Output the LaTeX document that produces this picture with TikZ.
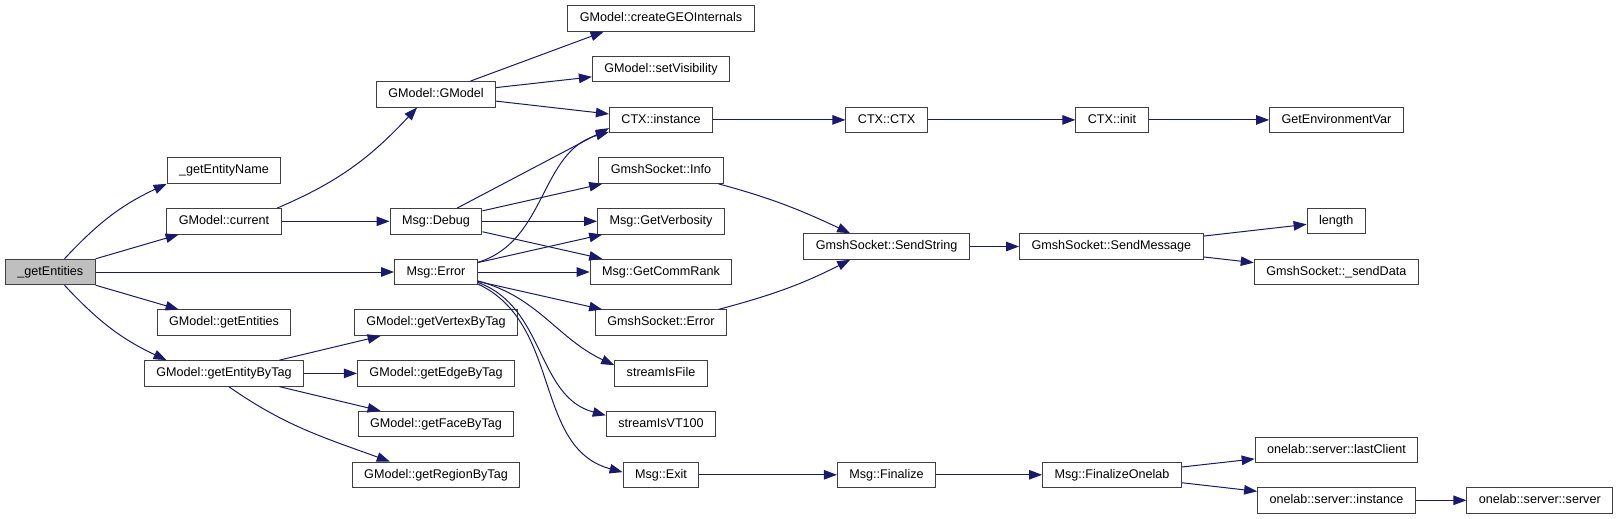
\documentclass[tikz,border=0pt]{standalone}
\usepackage{xcolor}
\usepackage{fontspec}
\setsansfont{Liberation Sans}
\usetikzlibrary{arrows.meta, positioning}

\definecolor{callblue}{HTML}{191970}
\definecolor{rootgray}{HTML}{BFBFBF}
\newcommand{\fnfont}{\sffamily\fontsize{12.6}{14}\selectfont}

\begin{document}
\begin{tikzpicture}[x=1pt, y=1pt, node distance=50.7pt]
    \tikzstyle{fnbox} = [rectangle, draw=black!75, line width=1pt, fill=white, inner xsep=12pt, inner ysep=0pt, text height=9.2pt, text depth=2.7pt, minimum height=25.5pt, font=\fnfont]
    \tikzstyle{root} = [fnbox, fill=rootgray]
    \tikzstyle{call} = [draw=callblue, line width=1pt, -{Triangle[length=13pt, width=9.5pt]}]

    \fill [white] (0,0) rectangle (1617,-519);
    \useasboundingbox (0,0) rectangle (1617,-519);

    % caller and first level
    \node [root] (getEnt) at (50.3,-272) {\_getEntities};
    \node [fnbox, right of=getEnt, node distance=385.7pt] (msgError) {Msg::Error};
    \node [fnbox, above of=msgError] (msgDebug) {Msg::Debug};
    \node [fnbox, left of=msgDebug, node distance=212pt] (gmCurrent) {GModel::current};
    \node [fnbox, above of=gmCurrent] (entName) {\_getEntityName};
    \node [fnbox, below of=gmCurrent, node distance=101.4pt] (gmEntities) {GModel::getEntities};
    \node [fnbox, below of=gmEntities] (byTag) {GModel::getEntityByTag};
    \node [fnbox, above of=msgDebug, node distance=127pt] (gmodel) {GModel::GModel};
    \node [fnbox, below of=msgError] (vertexTag) {GModel::getVertexByTag};
    \node [fnbox, below of=vertexTag] (edgeTag) {GModel::getEdgeByTag};
    \node [fnbox, below of=edgeTag] (faceTag) {GModel::getFaceByTag};
    \node [fnbox, below of=faceTag] (regionTag) {GModel::getRegionByTag};

    % third column
    \node [fnbox, right of=msgError, node distance=225pt] (commRank) {Msg::GetCommRank};
    \node [fnbox, above of=commRank] (verbosity) {Msg::GetVerbosity};
    \node [fnbox, above of=verbosity] (sockInfo) {GmshSocket::Info};
    \node [fnbox, above of=sockInfo] (ctxInst) {CTX::instance};
    \node [fnbox, above of=ctxInst] (setVis) {GModel::setVisibility};
    \node [fnbox, above of=setVis] (createGEO) {GModel::createGEOInternals};
    \node [fnbox, below of=commRank] (sockError) {GmshSocket::Error};
    \node [fnbox, below of=sockError] (isFile) {streamIsFile};
    \node [fnbox, below of=isFile] (isVT) {streamIsVT100};
    \node [fnbox, below of=isVT] (msgExit) {Msg::Exit};

    % deeper calls
    \node [fnbox, right of=ctxInst, node distance=225.6pt] (ctxCtx) {CTX::CTX};
    \node [fnbox, below of=ctxCtx, node distance=126.6pt] (sendStr) {GmshSocket::SendString};
    \node [fnbox, right of=msgExit, node distance=225.5pt] (finalize) {Msg::Finalize};
    \node [fnbox, right of=ctxCtx, node distance=225.4pt] (ctxInit) {CTX::init};
    \node [fnbox, right of=sendStr, node distance=224.8pt] (sendMsg) {GmshSocket::SendMessage};
    \node [fnbox, right of=finalize, node distance=225.5pt] (finOnelab) {Msg::FinalizeOnelab};
    \node [fnbox, right of=ctxInit, node distance=224.5pt] (envVar) {GetEnvironmentVar};
    \node [fnbox, right of=sendMsg, node distance=224.9pt, yshift=25.5pt] (length) {length};
    \node [fnbox, right of=sendMsg, node distance=224.9pt, yshift=-25.5pt] (sendData) {GmshSocket::\_sendData};
    \node [fnbox, right of=finOnelab, node distance=224.5pt, yshift=25pt] (lastClient) {onelab::server::lastClient};
    \node [fnbox, right of=finOnelab, node distance=224.5pt, yshift=-25.5pt] (olInst) {onelab::server::instance};
    \node [fnbox, right of=olInst, node distance=203.3pt] (olServer) {onelab::server::server};

    \path [call] (getEnt.43) to[out=47, in=205] (entName.193);
    \path [call] (getEnt) -- (gmCurrent);
    \path [call] (getEnt) -- (msgError);
    \path [call] (getEnt) -- (gmEntities);
    \path [call] (getEnt.-43) to[out=-47, in=155] (byTag.167);

    \path [call] (gmCurrent.14) to[out=23, in=227] (gmodel.215);
    \path [call] (gmCurrent) -- (msgDebug);

    \path [call] (gmodel.21) -- (createGEO.193);
    \path [call] (gmodel) -- (setVis);
    \path [call] (gmodel) -- (ctxInst);

    \path [call] (msgDebug.32) -- (ctxInst.189);
    \path [call] (msgDebug) -- (sockInfo);
    \path [call] (msgDebug) -- (verbosity);
    \path [call] (msgDebug) -- (commRank);

    \path [call] (msgError.13) to[out=17, in=196] (ctxInst.193);
    \path [call] (msgError) -- (verbosity);
    \path [call] (msgError) -- (commRank);
    \path [call] (msgError) -- (sockError);
    \path [call] (msgError.-12) to[out=-15, in=155] (isFile.170);
    \path [call] (msgError.-14) to[out=-20, in=165] (isVT.171);
    \path [call] (msgError.-16) to[out=-25, in=165] (msgExit.176);

    \path [call] (byTag) -- (vertexTag);
    \path [call] (byTag) -- (edgeTag);
    \path [call] (byTag) -- (faceTag);
    \path [call] (byTag.-70) to[out=-35, in=160] (regionTag.164);

    \path [call] (ctxInst) -- (ctxCtx);
    \path [call] (ctxCtx) -- (ctxInit);
    \path [call] (ctxInit) -- (envVar);

    \path [call] (sockInfo.-13) to[out=-15, in=155] (sendStr.160);
    \path [call] (sockError.13) to[out=15, in=207] (sendStr.200);
    \path [call] (sendStr) -- (sendMsg);
    \path [call] (sendMsg) -- (length);
    \path [call] (sendMsg) -- (sendData);

    \path [call] (msgExit) -- (finalize);
    \path [call] (finalize) -- (finOnelab);
    \path [call] (finOnelab) -- (lastClient);
    \path [call] (finOnelab) -- (olInst);
    \path [call] (olInst) -- (olServer);
\end{tikzpicture}
\end{document}
